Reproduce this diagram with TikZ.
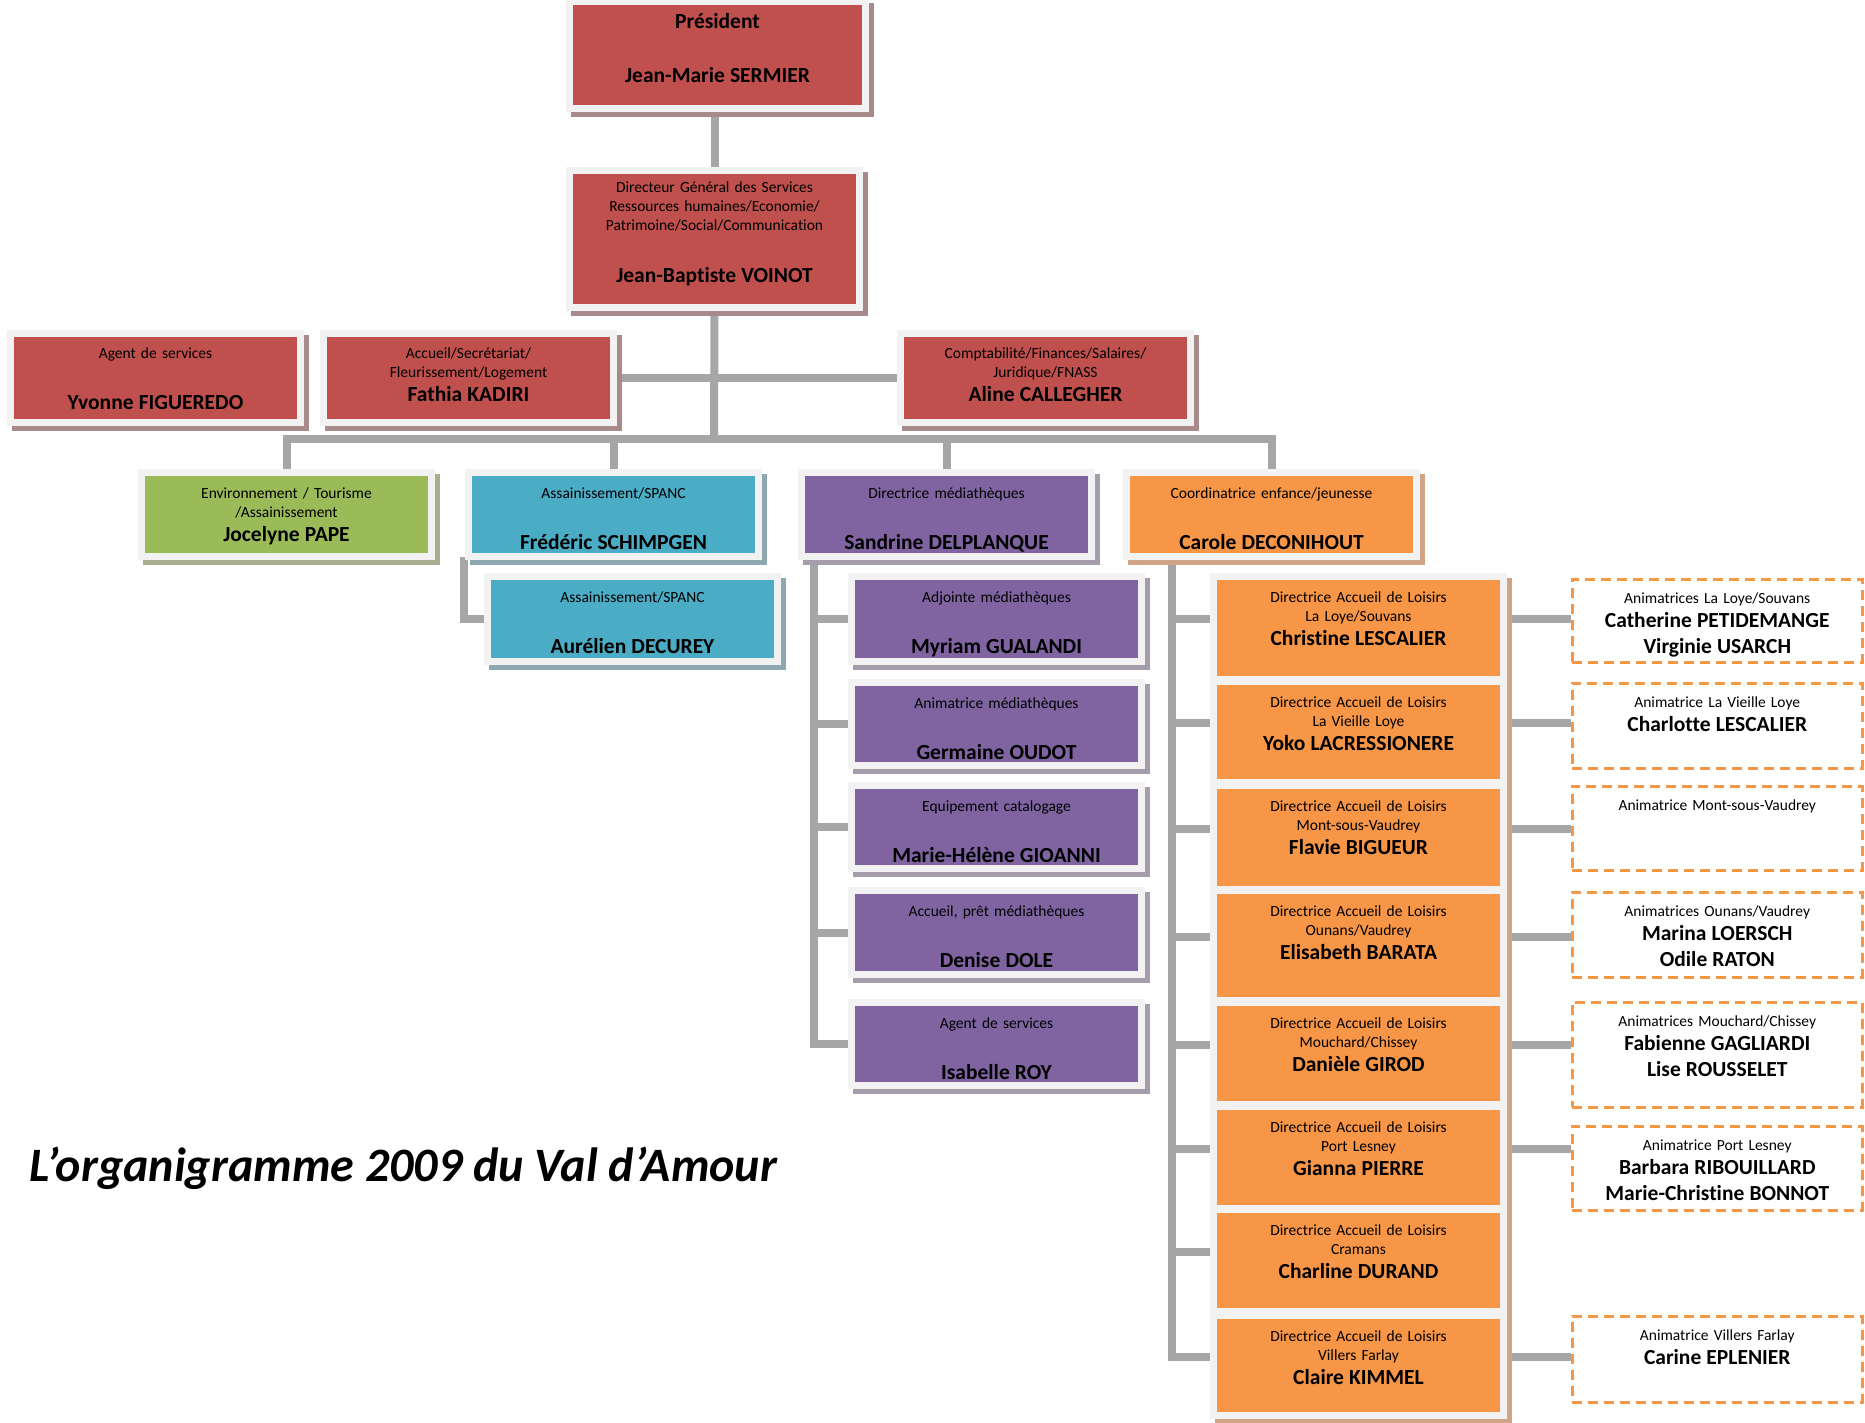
\documentclass[tikz,border=0pt]{standalone}
\usepackage{fontspec}
\setmainfont{Carlito}[Ligatures=NoCommon]
\usetikzlibrary{backgrounds}

\definecolor{boxred}{HTML}{C0504D}
\definecolor{redshadow}{HTML}{A88A8A}
\definecolor{boxgreen}{HTML}{9BBB59}
\definecolor{greenshadow}{HTML}{A8AE90}
\definecolor{boxteal}{HTML}{4BACC6}
\definecolor{tealshadow}{HTML}{8EA7B0}
\definecolor{boxpurple}{HTML}{8064A2}
\definecolor{purpleshadow}{HTML}{A59DAB}
\definecolor{boxorange}{HTML}{F79646}
\definecolor{orangeshadow}{HTML}{CFA585}
\definecolor{framegray}{HTML}{F2F2F2}
\definecolor{linkgray}{HTML}{A6A6A6}

\newcommand{\rolefont}{\fontsize{15.5}{19}\selectfont}
\newcommand{\pname}[1]{{\fontsize{21.5}{24}\selectfont\bfseries #1}}

\begin{document}
\begin{tikzpicture}[
	x=1pt,
	y=-1pt,
	card/.style={
		shape=rectangle,
		anchor=north west,
		xshift=-3.5pt,
		yshift=3.5pt,
		draw=framegray,
		line width=7pt,
		inner sep=3.5pt,
		outer sep=0pt,
		text width=283pt,
		align=center,
		text height=22pt,
		font=\rolefont,
	},
	castshadow/.style={
		preaction={fill=#1, draw=#1, line width=7pt, transform canvas={xshift=5pt, yshift=-5pt}},
	},
	redbox/.style={card, castshadow=redshadow, fill=boxred},
	greenbox/.style={card, castshadow=greenshadow, fill=boxgreen},
	tealbox/.style={card, castshadow=tealshadow, fill=boxteal},
	purplebox/.style={card, castshadow=purpleshadow, fill=boxpurple},
	orangebox/.style={card, castshadow=orangeshadow, fill=boxorange},
	animbox/.style={
		shape=rectangle,
		anchor=north west,
		draw=boxorange,
		fill=white,
		line width=2.5pt,
		dash pattern=on 10pt off 6pt,
		inner sep=0pt,
		minimum width=290pt,
		text width=290pt,
		align=center,
		text height=24pt,
		font=\rolefont,
	},
	link/.style={draw=linkgray, line width=8pt},
]
\useasboundingbox (0,0) rectangle (1865,1422);

% top of the chart
\node (pres) [redbox, text width=289pt, text height=23pt, text depth=77pt] at (573,5) {\pname{Président}\\[35pt]\pname{Jean-Marie SERMIER}};
\node (dgs) [redbox, text height=18pt, text depth=112pt] at (573,174) {Directeur Général des Services\\Ressources humaines/Economie/\\Patrimoine/Social/Communication\\[33pt]\pname{Jean-Baptiste VOINOT}};

\node (yvonne) [redbox, text height=21pt, text depth=61pt] at (14,337) {Agent de services\\[32pt]\pname{Yvonne FIGUEREDO}};
\node (fathia) [redbox, text height=21pt, text depth=61pt] at (327,337) {Accueil/Secrétariat/\\Fleurissement/Logement\\[5pt]\pname{Fathia KADIRI}};
\node (aline) [redbox, text height=21pt, text depth=61pt] at (904,337) {Comptabilité/Finances/Salaires/\\Juridique/FNASS\\[5pt]\pname{Aline CALLEGHER}};

% services
\node (jocelyne) [greenbox, text depth=55pt] at (145,476) {Environnement / Tourisme\\/Assainissement\\[5pt]\pname{Jocelyne PAPE}};
\node (frederic) [tealbox, text depth=55pt] at (472,476) {Assainissement/SPANC\\[32pt]\pname{Frédéric SCHIMPGEN}};
\node (aurelien) [tealbox, text depth=56pt] at (491,580) {Assainissement/SPANC\\[32pt]\pname{Aurélien DECUREY}};
\node (sandrine) [purplebox, text depth=55pt] at (805,476) {Directrice médiathèques\\[32pt]\pname{Sandrine DELPLANQUE}};
\node (carole) [orangebox, text depth=55pt] at (1130,476) {Coordinatrice enfance/jeunesse\\[32pt]\pname{Carole DECONIHOUT}};

% mediatheques
\node (myriam) [purplebox, text depth=56pt] at (855,580) {Adjointe médiathèques\\[32pt]\pname{Myriam GUALANDI}};
\node (germaine) [purplebox, text depth=54pt] at (855,686) {Animatrice médiathèques\\[32pt]\pname{Germaine OUDOT}};
\node (mhelene) [purplebox, text depth=54pt] at (855,789) {Equipement catalogage\\[32pt]\pname{Marie-Hélène GIOANNI}};
\node (denise) [purplebox, text depth=55pt] at (855,894) {Accueil, prêt médiathèques\\[32pt]\pname{Denise DOLE}};
\node (isabelle) [purplebox, text depth=54pt] at (855,1006) {Agent de services\\[32pt]\pname{Isabelle ROY}};

% accueils de loisirs
\node (christine) [orangebox, text depth=74pt] at (1217,580) {Directrice Accueil de Loisirs\\La Loye/Souvans\\[5pt]\pname{Christine LESCALIER}};
\node (yoko) [orangebox, text depth=72pt] at (1217,685) {Directrice Accueil de Loisirs\\La Vieille Loye\\[5pt]\pname{Yoko LACRESSIONERE}};
\node (flavie) [orangebox, text depth=75pt] at (1217,789) {Directrice Accueil de Loisirs\\Mont-sous-Vaudrey\\[5pt]\pname{Flavie BIGUEUR}};
\node (elisabeth) [orangebox, text depth=81pt] at (1217,894) {Directrice Accueil de Loisirs\\Ounans/Vaudrey\\[5pt]\pname{Elisabeth BARATA}};
\node (daniele) [orangebox, text depth=73pt] at (1217,1006) {Directrice Accueil de Loisirs\\Mouchard/Chissey\\[5pt]\pname{Danièle GIROD}};
\node (gianna) [orangebox, text depth=73pt] at (1217,1110) {Directrice Accueil de Loisirs\\Port Lesney\\[5pt]\pname{Gianna PIERRE}};
\node (charline) [orangebox, text depth=73pt] at (1217,1213) {Directrice Accueil de Loisirs\\Cramans\\[5pt]\pname{Charline DURAND}};
\node (claire) [orangebox, text depth=71pt] at (1217,1319) {Directrice Accueil de Loisirs\\Villers Farlay\\[5pt]\pname{Claire KIMMEL}};

% animatrices
\node (anim1) [animbox, text depth=59pt] at (1571,578) {Animatrices La Loye/Souvans\\[5pt]\pname{Catherine PETIDEMANGE}\\[7pt]\pname{Virginie USARCH}};
\node (anim2) [animbox, text depth=61pt] at (1571,682) {Animatrice La Vieille Loye\\[5pt]\pname{Charlotte LESCALIER}};
\node (anim3) [animbox, text depth=60pt] at (1571,785) {Animatrice Mont-sous-Vaudrey};
\node (anim4) [animbox, text depth=61pt] at (1571,891) {Animatrices Ounans/Vaudrey\\[5pt]\pname{Marina LOERSCH}\\[7pt]\pname{Odile RATON}};
\node (anim5) [animbox, text depth=81pt] at (1571,1001) {Animatrices Mouchard/Chissey\\[5pt]\pname{Fabienne GAGLIARDI}\\[7pt]\pname{Lise ROUSSELET}};
\node (anim6) [animbox, text depth=60pt] at (1571,1125) {Animatrice Port Lesney\\[5pt]\pname{Barbara RIBOUILLARD}\\[7pt]\pname{Marie-Christine BONNOT}};
\node (anim7) [animbox, text depth=62pt] at (1571,1315) {Animatrice Villers Farlay\\[5pt]\pname{Carine EPLENIER}};

\node (title) [anchor=west, font=\fontsize{48}{52}\selectfont\bfseries\itshape] at (26,1168) {L’organigramme 2009 du Val d’Amour};

% connectors under the frames
\begin{scope}[on background layer]
\coordinate (hub) at (714,439);
\coordinate (fredv) at ([xshift=-5pt]frederic.south west);
\coordinate (sandv) at ([xshift=12pt]sandrine.south west);
\coordinate (carolev) at ([xshift=45pt]carole.south west);

\draw[link] (dgs.north) -- (dgs.north |- pres.south);
\draw[link] (dgs.south) -- (hub);
\draw[link] (fathia.east) -- (aline.west);
\draw[link] (jocelyne.north) |- (hub) -| (carole.north);
\draw[link] (frederic.north) -- (frederic.north |- hub);
\draw[link] (sandrine.north) -- (sandrine.north |- hub);
\draw[link] (fredv) |- (aurelien.west);
\foreach \kid in {myriam,germaine,mhelene,denise,isabelle}
	\draw[link] (sandv) |- (\kid.west);
\foreach \kid in {christine,yoko,flavie,elisabeth,daniele,gianna,charline,claire}
	\draw[link] (carolev) |- ([yshift=9pt]\kid.west);
\foreach \kid/\anim in {christine/anim1,yoko/anim2,flavie/anim3,elisabeth/anim4,daniele/anim5,gianna/anim6,claire/anim7}
	\draw[link] ([yshift=9pt]\kid.east) -- ([yshift=9pt]\kid.east -| \anim.west);
\end{scope}
\end{tikzpicture}
\end{document}
